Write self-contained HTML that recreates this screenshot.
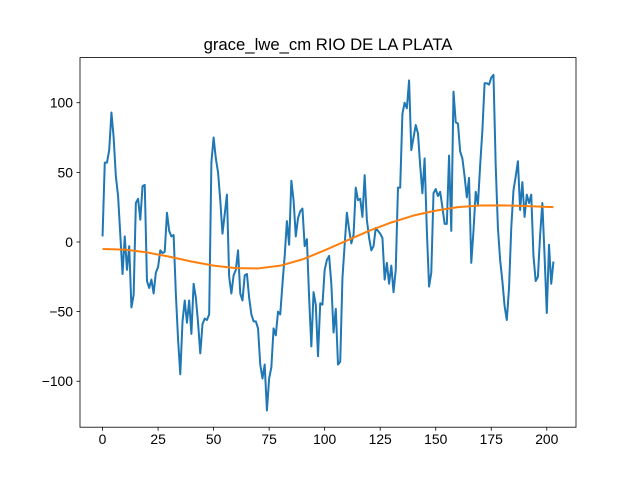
<!DOCTYPE html>
<html><head><meta charset="utf-8"><style>
body{margin:0;background:#fff;font-family:"Liberation Sans","DejaVu Sans",sans-serif}
</style></head><body>
<svg id="chart" width="640" height="480" xmlns="http://www.w3.org/2000/svg">
<rect width="640" height="480" fill="#fff"/>
<text x="328" y="50" text-anchor="middle" font-size="16.7">grace_lwe_cm RIO DE LA PLATA</text>
<g id="axes"></g>
<clipPath id="clip"><rect x="80" y="58" width="496" height="369"/></clipPath>
<g id="series" clip-path="url(#clip)"></g>
<rect x="80" y="57.6" width="496" height="369.6" fill="none" stroke="#000" stroke-width="0.8"/>
</svg>
<script>
const values = [4,57,57,66,93,75,47,33,5,-23,4,-20,-3,-47,-38,28,31,16,40,41,-28,-33,-27,-37,-22,-18,-6,-8,-7,21,8,4,5,-37,-70,-95,-57,-42,-58,-42,-66,-30,-40,-58,-80,-59,-55,-56,-52,57,75,60,50,30,6,20,34,-25,-37,-24,-20,-6,-37,-42,-24,-23,-40,-52,-57,-57,-62,-88,-98,-88,-121,-98,-90,-62,-67,-50,-52,-30,-10,15,-2,44,30,4,17,22,24,-3,2,-40,-75,-36,-45,-82,-44,-45,-20,-13,-10,-30,-65,-48,-88,-86,-26,-2,21,9,-1,5,39,30,31,18,48,16,3,-6,-3,10,8,6,3,-27,-15,-30,-17,-36,-20,39,39,92,100,96,116,66,75,84,78,55,35,60,8,-32,-22,35,38,33,36,25,13,13,62,8,108,86,85,65,60,47,32,46,-15,8,36,27,55,80,114,114,113,118,120,55,10,-13,-28,-46,-56,-33,10,37,47,58,23,43,18,34,28,34,-10,-28,-25,5,28,-10,-51,-2,-30,-14];
const trendIdx = [0,10,20,30,40,50,60,70,80,90,100,110,120,130,140,150,160,170,180,190,200,203];
const trendVals = [-5,-5.5,-7.5,-10.5,-14,-17,-18.8,-19,-17,-12.5,-6,1,8,14,19,22.5,25,26.2,26.3,25.8,25.2,25];
const xTicks = [0,25,50,75,100,125,150,175,200];
const yTicks = [-100,-50,0,50,100];

const L=80,R=576,T=57.6,B=427.2;
const xmin=-10.15,xmax=213.15,ymin=-133,ymax=132.4;
const xs=v=>L+(v-xmin)/(xmax-xmin)*(R-L);
const ys=v=>B-(v-ymin)/(ymax-ymin)*(B-T);
const NS="http://www.w3.org/2000/svg";
const axes=document.getElementById('axes'), series=document.getElementById('series');
function mk(t,a,p){const e=document.createElementNS(NS,t);for(const k in a)e.setAttribute(k,a[k]);p.appendChild(e);return e;}
xTicks.forEach(v=>{
  const x=xs(v);
  const tk=mk('line',{x1:x,x2:x,y1:B,y2:B+3.5,stroke:'#000','stroke-width':0.8},axes);
  
  
  const tx=mk('text',{x:x,y:B+17,'text-anchor':'middle','font-size':13.9},axes);
  tx.textContent=v;
  
  
});
yTicks.forEach(v=>{
  const y=ys(v);
  const tk=mk('line',{x1:L-3.5,x2:L,y1:y,y2:y,stroke:'#000','stroke-width':0.8},axes);
  
  
  const tx=mk('text',{x:L-7,y:y+5,'text-anchor':'end','font-size':13.9},axes);
  tx.textContent=v<0?'\u2212'+(-v):v;
  
  
});
const p1=mk('polyline',{points:values.map((v,i)=>xs(i)+','+ys(v)).join(' '),fill:'none',stroke:'#1f77b4','stroke-width':2,'stroke-linejoin':'round'},series);


const p2=mk('polyline',{points:trendIdx.map((v,i)=>xs(v)+','+ys(trendVals[i])).join(' '),fill:'none',stroke:'#ff7f0e','stroke-width':2,'stroke-linejoin':'round'},series);


</script>
</body></html>
